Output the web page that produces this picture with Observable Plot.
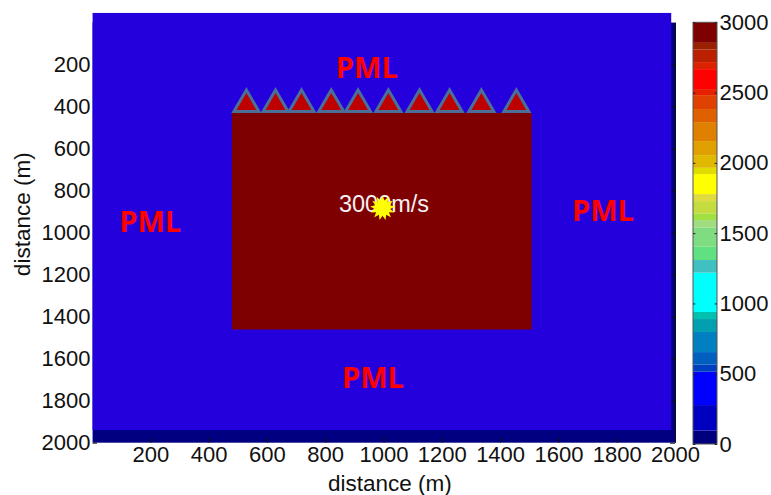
<!DOCTYPE html>
<html><head><meta charset="utf-8">
<style>
html,body{margin:0;padding:0;background:#fff}
#wrap{position:relative;width:771px;height:495px;overflow:hidden}
#wrap svg{position:absolute;left:0;top:0;background:transparent;overflow:visible}
</style>
<script src="https://cdn.jsdelivr.net/npm/d3@7"></script>
<script src="https://cdn.jsdelivr.net/npm/@observablehq/plot@0.6"></script>
</head><body><div id="wrap"></div>
<script>
const axisTicks = [200,400,600,800,1000,1200,1400,1600,1800,2000];
const xLabel = "distance (m)";
const yLabel = "distance (m)";
const pmlX = [941,198,1751,962];
const pmlY = [215,948,898,1695];
const mediumX = [480,1508];
const mediumY = [430,1461];
const outerX = [2,1987];
const outerY = [-46,1940];
const receiverX = [528,628,717,819,911,1015,1122,1225,1334,1454];
const receiverY = 387;
const sourceX = 995;
const sourceY = 880;
const velocityX = 1000;
const velocityY = 862;
const velocityText = "3000m/s";
const barEdges = [0,95,277,514,564,654,797,889,939,1219,1309,1403,1541,1593,1641,1728,1778,1920,1965,2055,2155,2290,2383,2482,2525,2667,2717,2807,2854,3000];
const barColors = ["#00007f","#0000c0","#0000ff","#0040c0","#0060c0","#0080c0","#00a0b0","#00c0b0","#00ffff","#40c0c0","#60e080","#80dc80","#a0dc80","#a0e040","#c4dc40","#e0dc40","#ffff00","#e0dc00","#e0b800","#e0a000","#e08000","#e06000","#e04000","#e82000","#ff0000","#dd2200","#bb2000","#992000","#7f0000"];
const barTicks = [0,500,1000,1500,2000,2500,3000];

const font = "'Liberation Sans', Arial, sans-serif";
const star = {draw(ctx, size){
  const R = Math.sqrt(size/Math.PI), r = R*0.62, n = 13;
  for(let i=0;i<2*n;i++){
    const a = i*Math.PI/n, q = i%2?r:R;
    const px = q*Math.sin(a), py = -q*Math.cos(a);
    i?ctx.lineTo(px,py):ctx.moveTo(px,py);
  }
  ctx.closePath();
}};

const main = Plot.plot({
  width:771, height:495,
  marginLeft:92, marginRight:96, marginTop:22.6, marginBottom:52.3,
  style:{fontFamily:font, fontSize:"22px", color:"#111", background:"transparent"},
  x:{domain:[0,2000]},
  y:{domain:[0,2000], reverse:true},
  marks:[
    Plot.rect([0],{x1:outerX[0],x2:2000,y1:0,y2:2000,fill:"#000080"}),
    Plot.ruleX(axisTicks,{x:d=>d,y1:2000,y2:1975,stroke:"#111"}),
    Plot.ruleY(axisTicks,{y:d=>d,x1:2000,x2:1983,stroke:"#111"}),
    Plot.ruleY([2000],{x1:outerX[0],x2:17,stroke:"#111"}),
    Plot.ruleX([2000],{y1:0,y2:2000,stroke:"#111"}),
    Plot.rect([0],{x1:outerX[0],x2:outerX[1],y1:outerY[0],y2:outerY[1],fill:"#2400dc"}),
    Plot.rect([0],{x1:mediumX[0],x2:mediumX[1],y1:mediumY[0],y2:mediumY[1],fill:"#7f0000"}),
    Plot.dot(receiverX,{x:d=>d,y:()=>receiverY,symbol:"triangle",r:9.3,fill:"#bf0000",stroke:"#4a6f99",strokeWidth:3}),
    Plot.text(pmlX,{x:d=>d,y:(d,i)=>pmlY[i],text:()=>"PML",fill:"#ff0000",fontWeight:"bold",fontSize:29,fontFamily:"'Open Sans', sans-serif"}),
    Plot.text([velocityText],{x:()=>velocityX,y:()=>velocityY,text:d=>d,fill:"#f4f0f4",fontSize:23.5}),
    Plot.dot([0],{x:()=>sourceX,y:()=>sourceY,symbol:star,r:12.5,fill:"#ffff00"}),
    Plot.axisX(axisTicks,{tickSize:0,tickPadding:3,tickFormat:"d",label:null,fontSize:22,fill:"#111"}),
    Plot.axisY(axisTicks,{tickSize:0,tickPadding:2,tickFormat:"d",label:null,fontSize:22,fill:"#111"}),
    Plot.text([xLabel],{x:()=>1020,y:()=>2000,dy:41,text:d=>d,fontSize:22.5,fill:"#111"}),
    Plot.text([yLabel],{x:()=>0,y:()=>910,dx:-70,rotate:-90,text:d=>d,fontSize:22.5,fill:"#111"})
  ]
});

const bar = Plot.plot({
  width:771, height:495,
  marginLeft:693, marginRight:54, marginTop:22.3, marginBottom:51,
  style:{fontFamily:font, fontSize:"22px", color:"#111", background:"transparent"},
  x:{domain:[0,1], axis:null},
  y:{domain:[0,3000]},
  marks:[
    Plot.rect(barColors,{x1:0,x2:1,y1:(d,i)=>barEdges[i],y2:(d,i)=>barEdges[i+1],fill:d=>d}),
    Plot.rect([0],{x1:0,x2:1,y1:0,y2:3000,fill:"none",stroke:"#555",strokeWidth:1}),
    Plot.ruleY(barTicks,{y:d=>d,x1:0,x2:0.1,stroke:"#222"}),
    Plot.ruleY(barTicks,{y:d=>d,x1:0.9,x2:1,stroke:"#222"}),
    Plot.axisY(barTicks,{anchor:"right",tickSize:0,tickPadding:2,tickFormat:"d",label:null,fontSize:22,fill:"#111"})
  ]
});
document.getElementById("wrap").append(main,bar);
</script>
</body></html>
